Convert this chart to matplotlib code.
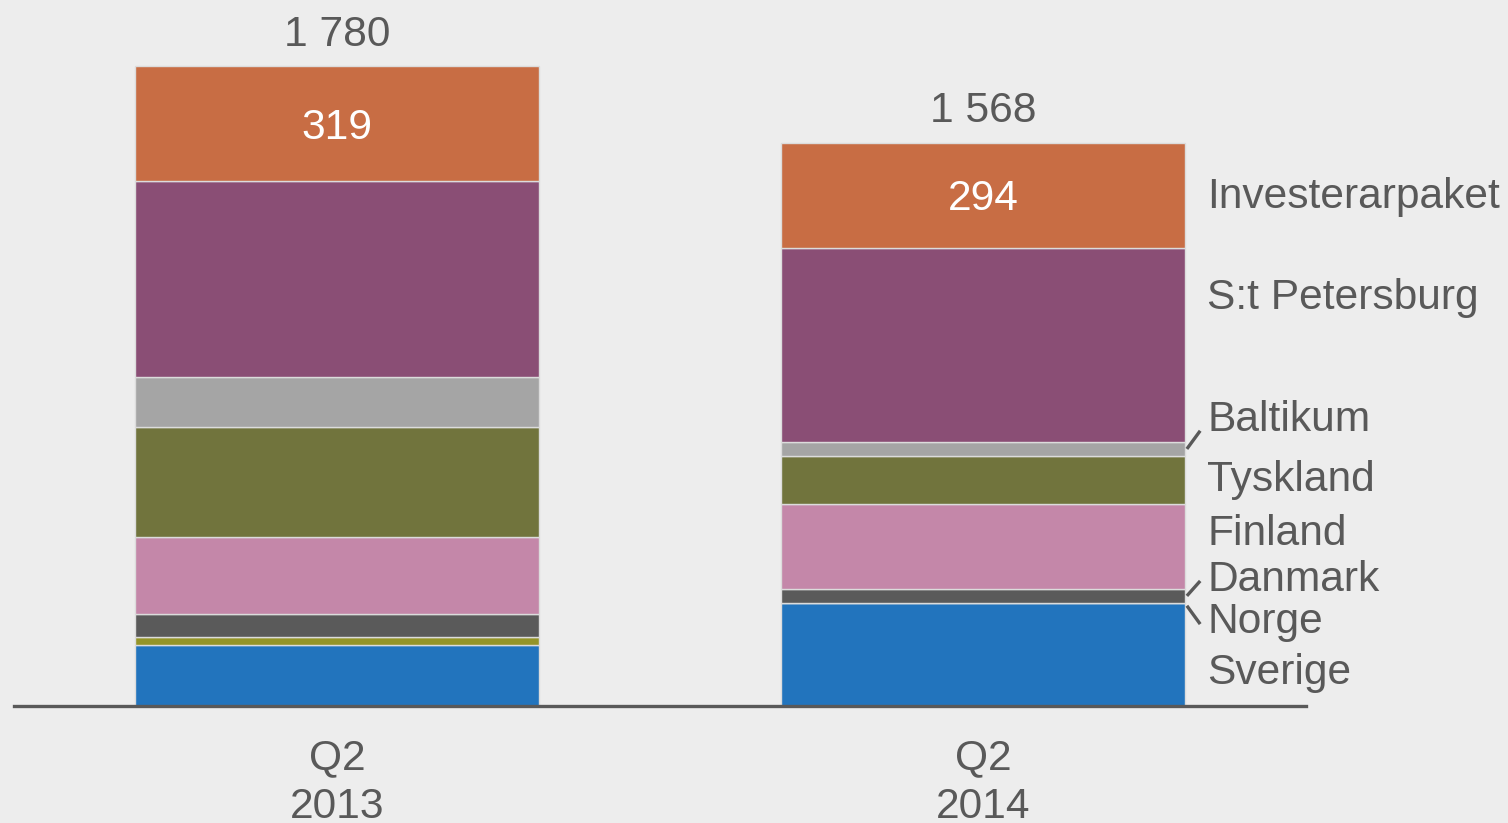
import matplotlib
matplotlib.use("Agg")
import matplotlib.pyplot as plt
import numpy as np

plt.rcParams["font.family"] = ["Liberation Sans", "DejaVu Sans"]

# Data
periods = ["Q2\n2013", "Q2\n2014"]
segments = ["Sverige", "Norge", "Danmark", "Finland", "Tyskland",
            "Baltikum", "S:t Petersburg", "Investerarpaket"]
sverige = [169, 287]
norge = [24, 0]
danmark = [64, 39]
finland = [214, 236]
tyskland = [306, 135]
baltikum = [138, 37]
st_petersburg = [546, 540]
investerarpaket = [319, 294]
totals = [1780, 1568]

series = [sverige, norge, danmark, finland, tyskland,
          baltikum, st_petersburg, investerarpaket]
colors = ["#2274BD", "#949428", "#5A5A5A", "#C487A9", "#71743D",
          "#A5A5A5", "#8A4E75", "#C86D44"]

BG = "#EDEDED"
TXT = "#595959"
FS = 30.6

fig = plt.figure(figsize=(15.08, 8.23), dpi=100, facecolor=BG)
ax = fig.add_axes([14 / 1508, 117 / 823, 1292 / 1508, 706 / 823])
ax.set_facecolor(BG)

x = np.arange(len(periods))
width = 0.624
bottom = np.zeros(len(periods))
for vals, col in zip(series, colors):
    ax.bar(x, vals, width, bottom=bottom, color=col,
           edgecolor="#dcdcdc", linewidth=1.0, zorder=2)
    bottom += np.array(vals)

ax.set_xlim(-0.5, 1.5)
ax.set_ylim(0, 1965)

# Totals above bars
for xi, tot in zip(x, totals):
    ax.annotate(f"{tot:,}".replace(",", " "), (xi, tot), xytext=(0, 15),
                textcoords="offset points", ha="center", va="baseline",
                fontsize=FS, color=TXT)

# Investerarpaket values inside the top segment
top_base = np.array(totals) - np.array(investerarpaket)
for xi, b, v in zip(x, top_base, investerarpaket):
    ax.annotate(str(v), (xi, b + v / 2), xytext=(0, -10.7),
                textcoords="offset points", ha="center", va="baseline",
                fontsize=FS, color="white")

# Segment names at the right of the last bar
label_x = 1.3475
label_y = [61, 202, 321, 448, 599, 766, 1104, 1386]
for name, ly in zip(segments, label_y):
    ax.text(label_x, ly, name, ha="left", va="baseline",
            fontsize=FS, color=TXT, clip_on=False)

# Leader lines for the thin segments of the last bar
cum = np.cumsum([s[1] for s in series])
starts = cum - np.array([s[1] for s in series]) / 2
leaders = {"Baltikum": 766, "Danmark": 348, "Norge": 228}
x0 = 1 + width / 2 + 0.0036
x1 = 1.3362
for name, yend in leaders.items():
    i = segments.index(name)
    y0 = starts[i]
    if name == "Norge":
        y0 -= 8
    ax.plot([x0, x1], [y0, yend], color=TXT, lw=2.4,
            solid_capstyle="butt", clip_on=False, zorder=3)

# Axes styling
for side in ["top", "left", "right"]:
    ax.spines[side].set_visible(False)
ax.spines["bottom"].set_color(TXT)
ax.spines["bottom"].set_linewidth(2.4)
ax.spines["bottom"].set_zorder(4)
ax.set_yticks([])
ax.set_xticks(x)
ax.set_xticklabels(periods, fontsize=FS, color=TXT, linespacing=1.3)
ax.tick_params(axis="x", length=0, pad=23)

fig.savefig("out.png", dpi=100, facecolor=BG)
